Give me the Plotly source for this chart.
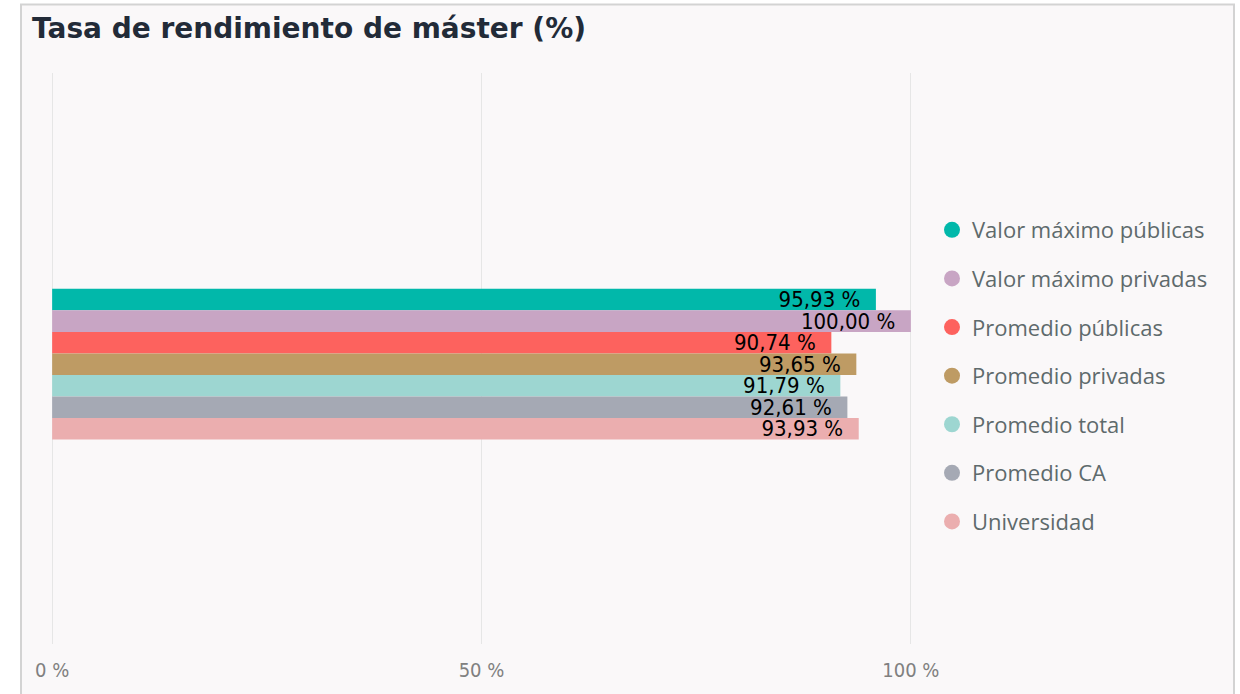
import plotly.graph_objects as go

series_names = ["Valor máximo públicas", "Valor máximo privadas", "Promedio públicas",
                "Promedio privadas", "Promedio total", "Promedio CA", "Universidad"]
values = [95.93, 100.00, 90.74, 93.65, 91.79, 92.61, 93.93]
colors = ["#01B8AA", "#C8A5C4", "#FD625E", "#BE9B64", "#9DD6D1", "#A5A9B4", "#EBAEAF"]
category = ["Tasa de rendimiento"]
tick_values = [0, 50, 100]
tick_labels = ["0 %", "50 %", "100 %"]

L, PW = 50, 863  # plot left edge and width in px

fig = go.Figure()
for name, v, c in zip(series_names, values, colors):
    fig.add_trace(go.Bar(
        y=category, x=[v], orientation="h", name=name,
        marker=dict(color=c, line=dict(width=0)),
        texttemplate="%{x:.2f} %\u00a0\u00a0", textposition="inside",
        insidetextanchor="end", constraintext="none",
        textfont=dict(family="DejaVu Sans Condensed", size=22, color="#000000"),
        showlegend=False, legendgroup=name, hoverinfo="skip"))
for name, c in zip(series_names, colors):
    fig.add_trace(go.Scatter(
        x=[None], y=[None], mode="markers", name=name, legendgroup=name,
        marker=dict(symbol="circle", size=18, color=c), showlegend=True))

fig.update_layout(
    width=1240, height=694,
    paper_bgcolor="#FFFFFF", plot_bgcolor="rgba(0,0,0,0)",
    separators=", ",
    barmode="group", bargap=0.736, bargroupgap=0,
    margin=dict(l=L, r=1240-L-PW, t=73, b=46),
    title=dict(text="<b>Tasa de rendimiento de máster (%)</b>", x=32/1240, xanchor="left",
               y=1-28/694, yanchor="middle",
               font=dict(family="DejaVu Sans", size=28, color="#222B38")),
    xaxis=dict(range=[-0.25, 100.25], tickvals=tick_values, ticktext=tick_labels, showgrid=True,
               gridcolor="#E6E6E6", gridwidth=1, zeroline=False, showline=False,
               ticks="", ticklabelstandoff=12,
               tickfont=dict(family="DejaVu Sans Condensed", size=20, color="#808080")),
    yaxis=dict(showticklabels=False, showgrid=False, zeroline=False,
               range=[0.49, -0.51]),
    legend=dict(x=(932-L)/PW, y=(648-210)/575, xanchor="left", yanchor="top",
                bgcolor="rgba(0,0,0,0)", tracegroupgap=17, itemwidth=30,
                font=dict(family="Open Sans", size=22, color="#5E6A6C")),
    shapes=[dict(type="rect", xref="paper", yref="paper", layer="below",
                 x0=(21-L)/PW, x1=(1234-L)/PW, y0=-0.2, y1=(648-4)/575,
                 fillcolor="#FAF8F9", line=dict(color="#D3D3D3", width=2))],
)
fig.write_html("out.html", config={"displayModeBar": False},
               post_script="document.body.style.margin='0px';")
